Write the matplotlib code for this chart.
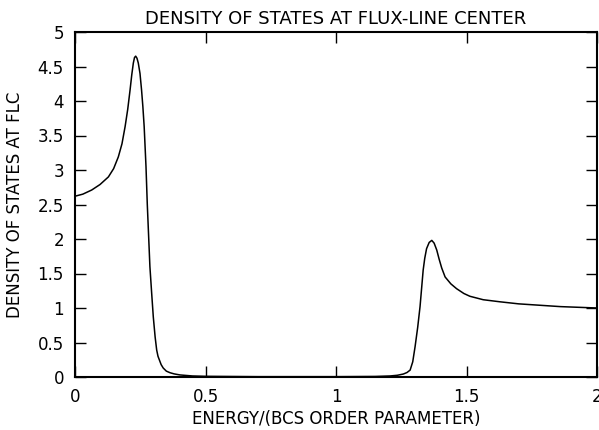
import matplotlib
matplotlib.use("Agg")
import matplotlib.pyplot as plt

# density of states at flux-line center
energy = [0.00, 0.03, 0.064, 0.096, 0.128, 0.148, 0.166, 0.18, 0.192, 0.202,
          0.211, 0.2175, 0.2235, 0.228, 0.2325, 0.2375, 0.2425, 0.249, 0.255, 0.260,
          0.265, 0.269, 0.272, 0.277, 0.282, 0.287, 0.294, 0.300, 0.307, 0.313,
          0.318, 0.323, 0.33, 0.338, 0.35, 0.364, 0.38, 0.402, 0.45, 0.50,
          0.70, 1.00, 1.15, 1.207, 1.235, 1.258, 1.272, 1.284, 1.294, 1.303,
          1.313, 1.322, 1.334, 1.34, 1.347, 1.357, 1.367, 1.376, 1.386, 1.395,
          1.405, 1.418, 1.44, 1.462, 1.49, 1.513, 1.564, 1.628, 1.70, 1.78,
          1.86, 1.93, 2.00]
dos = [2.62, 2.65, 2.71, 2.79, 2.90, 3.02, 3.19, 3.38, 3.63, 3.88,
       4.16, 4.38, 4.55, 4.63, 4.65, 4.62, 4.55, 4.40, 4.16, 3.92,
       3.63, 3.30, 3.05, 2.50, 2.05, 1.60, 1.20, 0.87, 0.58, 0.39,
       0.30, 0.25, 0.18, 0.13, 0.085, 0.062, 0.045, 0.03, 0.015, 0.01,
       0.005, 0.005, 0.008, 0.015, 0.025, 0.043, 0.065, 0.10, 0.22, 0.44,
       0.72, 1.02, 1.55, 1.72, 1.86, 1.95, 1.98, 1.94, 1.84, 1.71,
       1.58, 1.45, 1.35, 1.28, 1.21, 1.17, 1.12, 1.09, 1.06, 1.04,
       1.02, 1.01, 1.00]

xticks = [0, 0.5, 1, 1.5, 2]
xtick_labels = ["0", "0.5", "1", "1.5", "2"]
yticks = [0, 0.5, 1, 1.5, 2, 2.5, 3, 3.5, 4, 4.5, 5]
ytick_labels = ["0", "0.5", "1", "1.5", "2", "2.5", "3", "3.5", "4", "4.5", "5"]

plt.rcParams['font.family'] = ['DejaVu Sans']

fig = plt.figure(figsize=(5.99, 4.30), dpi=100)
ax = fig.add_axes([75 / 599, 53 / 430, 522 / 599, 345 / 430])

ax.plot(energy, dos, color="black", linewidth=1.1)

ax.set_xlim(0, 2)
ax.set_ylim(0, 5)
ax.set_xticks(xticks)
ax.set_xticklabels(xtick_labels)
ax.set_yticks(yticks)
ax.set_yticklabels(ytick_labels)
ax.tick_params(direction="in", length=8, width=1, top=True, right=True,
               labelsize=12, pad=8)
for s in ax.spines.values():
    s.set_linewidth(1.5)

ax.set_title("DENSITY OF STATES AT FLUX-LINE CENTER", fontsize=13, pad=6)
ax.set_xlabel("ENERGY/(BCS ORDER PARAMETER)", fontsize=12, labelpad=3)
ax.set_ylabel("DENSITY OF STATES AT FLC", fontsize=12, labelpad=10)

fig.savefig("out.png", dpi=100)
